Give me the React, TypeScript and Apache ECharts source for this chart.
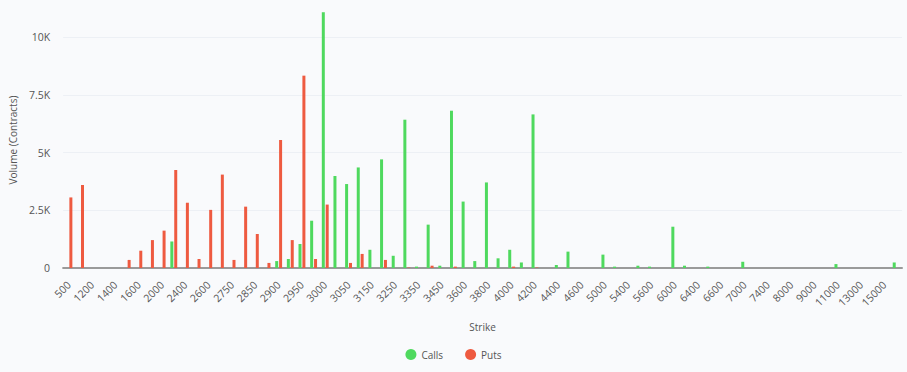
import React, { useEffect, useRef } from "react";
import * as echarts from "echarts";

const strikes = [
  "500", "1000", "1200", "1300", "1400", "1500", "1600", "1800", "2000", "2200",
  "2400", "2500", "2600", "2700", "2750", "2800", "2850", "2875", "2900", "2925",
  "2950", "2975", "3000", "3025", "3050", "3100", "3150", "3200", "3250", "3300",
  "3350", "3400", "3450", "3500", "3600", "3700", "3800", "3900", "4000", "4100",
  "4200", "4300", "4400", "4500", "4600", "4800", "5000", "5200", "5400", "5500",
  "5600", "5800", "6000", "6200", "6400", "6500", "6600", "6800", "7000", "7200",
  "7400", "7600", "8000", "8500", "9000", "10000", "11000", "12000", "13000", "14000",
  "15000", "16000",
];

const calls = [
  0, 0, 0, 0, 0, 0, 0, 0, 0, 1150,
  0, 0, 0, 0, 0, 0, 0, 0, 300, 390,
  1040, 2050, 11090, 3990, 3640, 4360, 790, 4710, 530, 6430,
  60, 1880, 100, 6820, 2880, 300, 3710, 420, 790, 240,
  6660, 0, 130, 710, 0, 0, 580, 60, 0, 100,
  60, 0, 1790, 100, 0, 60, 0, 0, 270, 0,
  0, 0, 0, 0, 0, 0, 170, 0, 0, 0,
  0, 240,
];

const puts = [
  3060, 3600, 0, 0, 0, 350, 750, 1210, 1620, 4250,
  2830, 390, 2520, 4050, 350, 2660, 1470, 220, 5550, 1210,
  8340, 390, 2750, 0, 220, 610, 0, 350, 0, 20,
  0, 100, 0, 60, 0, 0, 0, 0, 60, 0,
  20, 0, 0, 0, 0, 0, 0, 0, 0, 0,
  0, 0, 0, 0, 0, 0, 0, 0, 0, 0,
  0, 0, 0, 0, 0, 0, 0, 0, 0, 0,
  0, 0,
];

const yTicks = [0, 2500, 5000, 7500, 10000];

const FONT = "'Open Sans', 'Noto Sans', sans-serif";
const BG = "#f9fafc";

function fmtK(v: number): string {
  if (v === 0) return "0";
  return v / 1000 + "K";
}

export default function App() {
  const ref = useRef<HTMLDivElement>(null);
  useEffect(() => {
    document.body.style.margin = "0";
    if (!ref.current) return;
    const chart = echarts.init(ref.current, null, { renderer: "svg" });
    const gridColor = "#edf0f5";
    chart.setOption({
      animation: false,
      backgroundColor: BG,
      textStyle: { fontFamily: FONT },
      grid: { left: 59, right: 5, top: 12, bottom: 104, containLabel: false },
      legend: {
        bottom: 7,
        left: "center",
        icon: "circle",
        itemWidth: 11,
        itemHeight: 11,
        itemGap: 22,
        textStyle: { fontFamily: FONT, fontSize: 10, color: "#555" },
        data: ["Calls", "Puts"],
      },
      xAxis: {
        type: "category",
        data: strikes,
        name: "Strike",
        nameLocation: "middle",
        nameGap: 54,
        nameTextStyle: { fontFamily: FONT, fontSize: 10, color: "#555" },
        axisLine: { lineStyle: { color: "#9a9a9a", width: 2 } },
        axisTick: { show: false },
        axisLabel: {
          interval: 1,
          rotate: 45,
          margin: 15,
          fontSize: 10.5,
          color: "#555",
          fontFamily: FONT,
        },
      },
      yAxis: {
        type: "value",
        min: 0,
        max: 11100,
        interval: yTicks[1] - yTicks[0],
        name: "Volume (Contracts)",
        nameLocation: "middle",
        nameGap: 41,
        nameTextStyle: { fontFamily: FONT, fontSize: 10, color: "#555" },
        axisLine: { show: false },
        axisTick: { show: false },
        axisLabel: {
          showMaxLabel: false,
          fontSize: 10.5,
          color: "#555",
          fontFamily: FONT,
          margin: 13,
          formatter: (v: number) => (yTicks.includes(v) ? fmtK(v) : ""),
        },
        splitLine: {
          lineStyle: {
            color: [gridColor, gridColor, gridColor, gridColor, gridColor, "rgba(0,0,0,0)"],
            width: 1,
          },
        },
      },
      series: [
        {
          name: "Calls",
          type: "bar",
          data: calls,
          barWidth: 3,
          barGap: "30%",
          itemStyle: { color: "#4fd95e" },
        },
        {
          name: "Puts",
          type: "bar",
          data: puts,
          barWidth: 3,
          itemStyle: { color: "#ee5a40" },
        },
      ],
    });
    return () => chart.dispose();
  }, []);
  return <div ref={ref} style={{ width: 907, height: 372, background: BG }} />;
}
